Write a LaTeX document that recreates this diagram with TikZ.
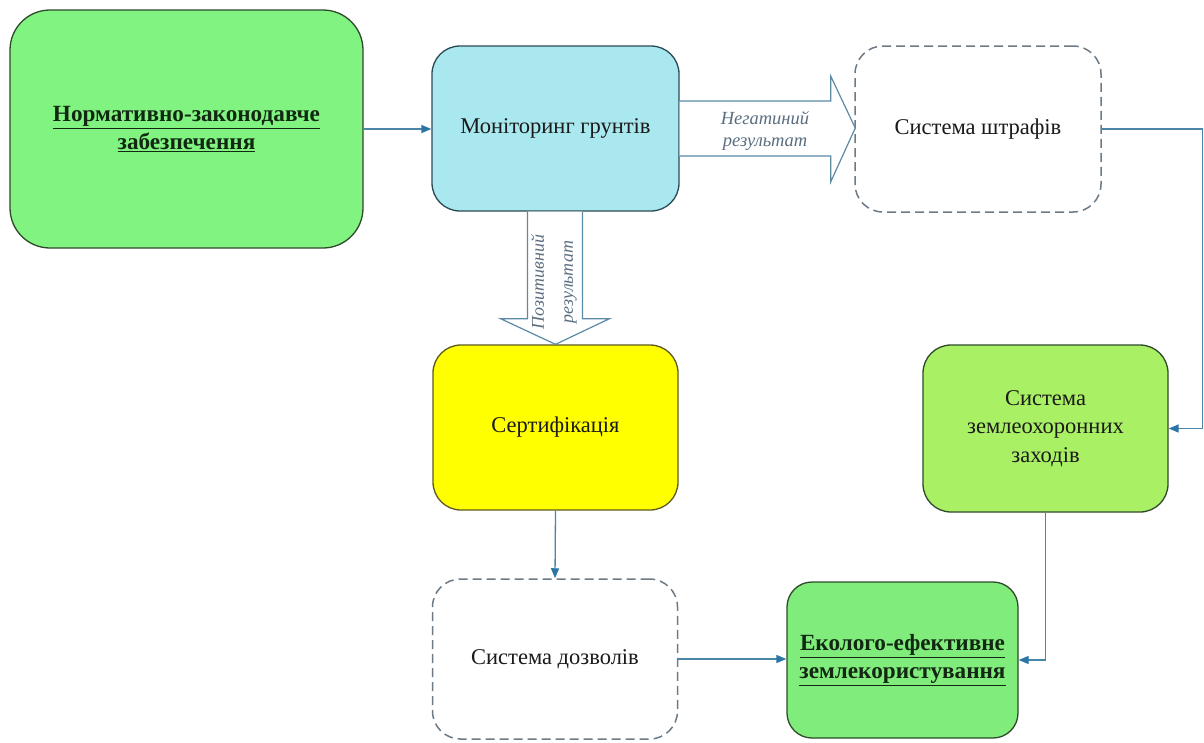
\documentclass[tikz,border=0pt]{standalone}
\usepackage{fontspec}
\setmainfont{Liberation Serif}
\usetikzlibrary{arrows.meta,calc}
\definecolor{greenA}{HTML}{80F380}
\definecolor{greenB}{HTML}{80EC7C}
\definecolor{limeC}{HTML}{AAF064}
\definecolor{cyanC}{HTML}{A8E8EE}
\definecolor{yelC}{HTML}{FFFF00}
\definecolor{bordG}{HTML}{2E4A2A}
\definecolor{bordC}{HTML}{2C4A55}
\definecolor{bordY}{HTML}{5E5A20}
\definecolor{dashc}{HTML}{6E7A86}
\definecolor{linec}{HTML}{4A86A8}
\definecolor{tipc}{HTML}{2C76A6}
\definecolor{blkc}{HTML}{5C8AA6}
\definecolor{labc}{HTML}{5A6E80}
\definecolor{txt}{HTML}{1A1A1A}
\definecolor{btxt}{HTML}{122812}
\begin{document}
\begin{tikzpicture}[x=1pt,y=-1pt,
  box/.style={rectangle, rounded corners=28pt, line width=1.3pt, align=center,
    font=\fontsize{22.5}{28.5}\selectfont, text=txt, inner sep=0pt},
  dbox/.style={box, draw=dashc, dash pattern=on 9pt off 5pt, line width=1.5pt, fill=white},
  conn/.style={draw=linec, line width=1.3pt, -{Triangle[length=10pt,width=8pt,color=tipc]}},
  blk/.style={draw=blkc, line width=1.2pt, fill=white, line join=miter},
  lab/.style={font=\fontsize{18.5}{22}\itshape, text=labc, align=center, inner sep=0pt}]
\useasboundingbox (0,0) rectangle (1204,742);
\fill[white] (0,0) rectangle (1204,742);

% nodes
\node[box, rounded corners=40pt, fill=greenA, draw=bordG, minimum width=353pt, minimum height=238pt,
  font=\fontsize{23.2}{28}\selectfont\bfseries, text=btxt]
  (norm) at (186.5,129) {\underline{Нормативно-законодавче}\\\underline{забезпечення}};
\node[box, fill=cyanC, draw=bordC, minimum width=247pt, minimum height=165pt]
  (mon) at (555.5,128.5) {Моніторинг грунтів};
\node[dbox, minimum width=246pt, minimum height=166pt]
  (sht) at (978,129) {Система штрафів};
\node[box, fill=yelC, draw=bordY, minimum width=245pt, minimum height=165pt]
  (cert) at (555.5,427.5) {Сертифікація};
\node[box, fill=limeC, draw=bordG, minimum width=245pt, minimum height=167pt]
  (zem) at (1045.5,428.5) {Система\\землеохоронних\\заходів};
\node[dbox, minimum width=245pt, minimum height=160pt]
  (doz) at (555,659) {Система дозволів};
\node[box, rounded corners=25pt, fill=greenB, draw=bordG, minimum width=231pt, minimum height=156pt,
  font=\fontsize{23.2}{28}\selectfont\bfseries, text=btxt]
  (eko) at (902.5,660) {\underline{Еколого-ефективне}\\\underline{землекористування}};

% block arrow right (negative)
\draw[blk] ($(mon.east)+(0,-27.5)$) -- ($(mon.east)+(151,-27.5)$) -- ($(mon.east)+(151,-52.5)$)
  -- ($(sht.west)+(1,-1)$) -- ($(mon.east)+(151,53.5)$) -- ($(mon.east)+(151,27.5)$)
  -- ($(mon.east)+(0,27.5)$);
\node[lab] (neg) at (765,131) {Негатиний\\результат};

% block arrow down (positive)
\draw[blk] ($(mon.south)+(-28,0)$) -- ($(mon.south)+(-28,107)$) -- ($(mon.south)+(-55,107)$)
  -- (cert.north) -- ($(mon.south)+(54,107)$) -- ($(mon.south)+(27,107)$)
  -- ($(mon.south)+(27,0)$);
\node[lab, rotate=90, font=\fontsize{18}{29}\itshape] (pos) at (554,282) {Позитивний\\результат};

% connectors
\draw[conn] (norm.east) -- (norm.east -| mon.west);
\draw[conn] (sht.east) -- ++(101,0) |- (zem.east);
\draw[conn] (cert.south) -- (doz.north);
\draw[conn] (doz.east) -- (doz.east -| eko.west);
\draw[conn] (zem.south) |- (eko.east);
\end{tikzpicture}
\end{document}
